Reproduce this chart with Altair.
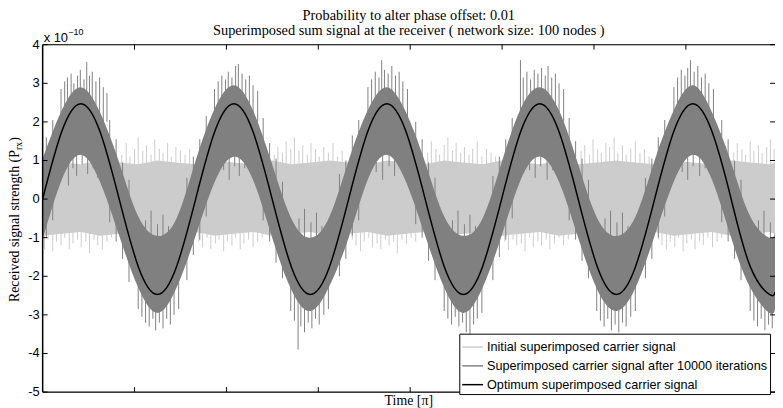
import altair as alt
import pandas as pd

# ---------------- data (values in units of 1e-10, time in tick units) ----------------
SERIES = ["Initial superimposed carrier signal",
          "Superimposed carrier signal after 10000 iterations",
          "Optimum superimposed carrier signal"]
COLORS = ["#cccccc", "#808080", "#000000"]

TITLE_LINES = ["Probability to alter phase offset: 0.01",
               "Superimposed sum signal at the receiver ( network size: 100 nodes )"]
X_TITLE = "Time [\u03c0]"

X_TICKS = [1, 2, 3, 4, 5, 6, 7]
Y_TICKS = [-5, -4, -3, -2, -1, 0, 1, 2, 3, 4]
Y_TICK_LABELS = ["-5", "-4", "-3", "-2", "-1", "0", "1", "2", "3", "4"]

# sample positions along the time axis
T = [0.000, 0.208, 0.416, 0.624, 0.833, 1.041, 1.249, 1.457, 1.665, 1.873,
     2.081, 2.289, 2.498, 2.706, 2.914, 3.122, 3.330, 3.538, 3.746, 3.954,
     4.163, 4.371, 4.579, 4.787, 4.995, 5.203, 5.411, 5.619, 5.828, 6.036,
     6.244, 6.452, 6.660, 6.868, 7.076, 7.284, 7.493, 7.701, 7.909, 7.970]

# optimum superimposed carrier signal
OPT = [0.0, 1.75, 2.47, 1.75, 0.0, -1.75, -2.47, -1.75, 0.0, 1.75,
       2.47, 1.75, 0.0, -1.75, -2.47, -1.75, 0.0, 1.75, 2.47, 1.75,
       0.0, -1.75, -2.47, -1.75, 0.0, 1.75, 2.47, 1.75, 0.0, -1.75,
       -2.47, -1.75, 0.0, 1.75, 2.47, 1.75, 0.0, -1.75, -2.47, -2.41]

# signal after 10000 iterations: dense core envelope
ITER_HI = [1.05, 2.3, 2.9, 2.25, 0.95, -0.45, -0.95, -0.5, 1.0, 2.35,
           2.95, 2.3, 0.9, -0.5, -1.0, -0.45, 1.0, 2.3, 2.9, 2.25,
           0.95, -0.45, -0.95, -0.5, 0.95, 2.35, 2.9, 2.3, 0.9, -0.5,
           -0.95, -0.45, 1.0, 2.3, 2.95, 2.25, 0.95, -0.45, -1.0, -0.85]
ITER_LO = [-1.05, 0.5, 1.15, 0.45, -0.95, -2.3, -2.95, -2.3, -0.95, 0.45,
           1.1, 0.5, -1.0, -2.35, -2.9, -2.25, -1.0, 0.5, 1.15, 0.45,
           -0.95, -2.3, -2.95, -2.3, -0.95, 0.5, 1.1, 0.45, -1.0, -2.35,
           -2.9, -2.3, -0.95, 0.45, 1.15, 0.5, -1.0, -2.3, -2.95, -2.85]

# initial signal: dense core envelope
INIT_HI = [1.0, 0.95, 0.9, 1.0, 0.95, 0.9, 1.0, 0.95, 0.9, 1.0,
           0.95, 0.9, 1.0, 0.9, 0.95, 1.0, 0.95, 0.9, 1.0, 0.95,
           0.9, 1.0, 0.95, 0.9, 1.0, 0.95, 0.9, 1.0, 0.9, 0.95,
           1.0, 0.95, 0.9, 1.0, 0.95, 0.9, 1.0, 0.95, 0.9, 0.95]
INIT_LO = [-0.95, -0.9, -0.85, -0.95, -0.9, -0.85, -0.95, -0.9, -0.85, -0.95,
           -0.9, -0.85, -0.95, -0.9, -0.85, -0.95, -0.9, -0.85, -0.95, -0.9,
           -0.85, -0.95, -0.9, -0.85, -0.95, -0.9, -0.85, -0.95, -0.9, -0.85,
           -0.95, -0.9, -0.85, -0.95, -0.9, -0.85, -0.95, -0.9, -0.85, -0.9]

# initial signal: upward spikes (visible around troughs of the optimum)
INIT_UP_T = [0.86, 0.91, 0.95, 1.00, 1.04, 1.09, 1.13, 1.18, 1.22, 1.27, 1.31, 1.36, 1.40, 1.45, 1.50, 1.55, 1.60,
             2.52, 2.56, 2.61, 2.65, 2.70, 2.74, 2.79, 2.83, 2.88, 2.92, 2.97, 3.01, 3.06, 3.11, 3.16, 3.21, 3.26,
             4.19, 4.23, 4.28, 4.32, 4.37, 4.41, 4.46, 4.50, 4.55, 4.59, 4.64, 4.68, 4.73, 4.78, 4.83, 4.88, 4.93,
             5.86, 5.90, 5.95, 5.99, 6.04, 6.08, 6.13, 6.17, 6.22, 6.26, 6.31, 6.35, 6.40, 6.45, 6.50, 6.55, 6.60,
             7.52, 7.56, 7.61, 7.65, 7.70, 7.74, 7.79, 7.83, 7.88, 7.92, 7.96]
INIT_UP_V = [1.15, 1.45, 1.1, 1.3, 1.6, 1.25, 1.4, 1.15, 1.55, 1.3, 1.2, 1.45, 1.1, 1.35, 1.25, 1.15, 1.3,
             1.15, 1.35, 1.2, 1.5, 1.3, 1.6, 1.25, 1.4, 1.15, 1.45, 1.3, 1.1, 1.35, 1.2, 1.45, 1.1, 1.25,
             1.2, 1.5, 1.3, 1.15, 1.4, 1.6, 1.25, 1.45, 1.2, 1.35, 1.15, 1.3, 1.5, 1.1, 1.3, 1.2, 1.1,
             1.25, 1.4, 1.15, 1.55, 1.3, 1.2, 1.45, 1.35, 1.6, 1.2, 1.4, 1.15, 1.3, 1.5, 1.2, 1.3, 1.1,
             1.2, 1.45, 1.3, 1.15, 1.5, 1.25, 1.4, 1.2, 1.35, 1.55, 1.3]

# initial signal: downward spikes (visible around peaks of the optimum)
INIT_DN_T = [0.02, 0.06, 0.11, 0.15, 0.20, 0.24, 0.29, 0.33, 0.38, 0.42, 0.47, 0.51, 0.56, 0.60, 0.65, 0.70, 0.75,
             1.70, 1.74, 1.79, 1.83, 1.88, 1.92, 1.97, 2.01, 2.06, 2.10, 2.15, 2.19, 2.24, 2.29, 2.34, 2.39,
             3.37, 3.41, 3.46, 3.50, 3.55, 3.59, 3.64, 3.68, 3.73, 3.77, 3.82, 3.86, 3.91, 3.96, 4.01, 4.06,
             5.03, 5.07, 5.12, 5.16, 5.21, 5.25, 5.30, 5.34, 5.39, 5.43, 5.48, 5.52, 5.57, 5.62, 5.67, 5.72,
             6.70, 6.74, 6.79, 6.83, 6.88, 6.92, 6.97, 7.01, 7.06, 7.10, 7.15, 7.19, 7.24, 7.29, 7.34, 7.39]
INIT_DN_V = [-1.3, -1.05, -1.35, -1.1, -1.2, -1.0, -1.3, -1.15, -1.05, -1.25, -1.1, -1.4, -1.05, -1.2, -1.3, -1.1, -1.0,
             -1.1, -1.25, -1.0, -1.3, -1.15, -1.05, -1.35, -1.1, -1.2, -1.0, -1.3, -1.15, -1.05, -1.25, -1.1, -1.0,
             -1.05, -1.2, -1.35, -1.1, -1.0, -1.25, -1.15, -1.3, -1.05, -1.2, -1.1, -1.4, -1.05, -1.15, -1.0, -1.1,
             -1.1, -1.3, -1.05, -1.2, -1.15, -1.35, -1.0, -1.25, -1.1, -1.2, -1.05, -1.3, -1.15, -1.0, -1.2, -1.05,
             -1.05, -1.2, -1.3, -1.1, -1.25, -1.0, -1.35, -1.15, -1.05, -1.3, -1.1, -1.2, -1.0, -1.25, -1.1, -1.0]

# signal after iterations: outer spikes above the peaks
ITER_UP_T = [0.20, 0.24, 0.27, 0.31, 0.34, 0.38, 0.41, 0.45, 0.48, 0.51, 0.54, 0.58, 0.62, 0.66, 0.70,
             1.87, 1.91, 1.95, 1.99, 2.02, 2.06, 2.10, 2.13, 2.17, 2.21, 2.25, 2.29, 2.34,
             3.54, 3.58, 3.62, 3.66, 3.69, 3.72, 3.76, 3.80, 3.84, 3.88, 3.92, 3.97,
             5.20, 5.23, 5.27, 5.31, 5.35, 5.39, 5.43, 5.47, 5.50, 5.54, 5.58, 5.62, 5.67,
             6.87, 6.91, 6.95, 6.99, 7.02, 7.05, 7.09, 7.13, 7.17, 7.21, 7.25, 7.30]
ITER_UP_V = [2.85, 3.05, 3.15, 3.25, 3.0, 3.2, 3.35, 3.1, 3.55, 3.2, 3.3, 3.05, 3.15, 2.9, 2.75,
             2.85, 3.05, 3.2, 3.1, 3.3, 3.15, 3.45, 3.5, 3.25, 3.1, 3.2, 2.95, 2.8,
             2.9, 3.1, 3.3, 3.15, 3.6, 3.35, 3.25, 3.45, 3.2, 3.3, 3.05, 2.85,
             3.6, 3.15, 3.3, 3.1, 3.35, 3.25, 3.4, 3.2, 3.45, 3.15, 3.25, 3.0, 2.85,
             2.9, 3.15, 3.35, 3.2, 3.4, 3.6, 3.3, 3.45, 3.15, 3.25, 3.0, 2.85]

# signal after iterations: outer spikes below the troughs
ITER_DN_T = [1.04, 1.08, 1.12, 1.16, 1.20, 1.23, 1.27, 1.31, 1.35, 1.39, 1.43, 1.48,
             2.70, 2.74, 2.78, 2.81, 2.85, 2.89, 2.93, 2.97, 3.01, 3.06, 3.11,
             4.37, 4.41, 4.45, 4.49, 4.53, 4.57, 4.61, 4.65, 4.69, 4.73, 4.78,
             6.03, 6.07, 6.11, 6.15, 6.19, 6.23, 6.27, 6.31, 6.35, 6.40, 6.45,
             7.70, 7.74, 7.78, 7.82, 7.86, 7.90, 7.94]
ITER_DN_V = [-2.85, -3.05, -3.2, -3.3, -3.1, -3.4, -3.2, -3.35, -3.1, -3.25, -3.0, -2.85,
             -2.9, -3.15, -3.9, -3.3, -3.45, -3.2, -3.35, -3.1, -3.25, -3.0, -2.85,
             -2.9, -3.1, -3.25, -3.05, -3.3, -3.2, -3.45, -3.5, -3.25, -3.1, -2.95,
             -2.9, -3.15, -3.3, -3.1, -3.4, -3.25, -3.45, -3.2, -3.3, -3.05, -2.9,
             -2.9, -3.15, -3.3, -3.1, -3.4, -3.25, -3.35]

# signal after iterations: inner spikes below the peaks
ITER_IN_PK_T = [0.28, 0.33, 0.37, 0.43, 0.49, 0.55, 0.60,
                1.97, 2.03, 2.09, 2.14, 2.20,
                3.63, 3.70, 3.77, 3.83, 3.89,
                5.30, 5.36, 5.42, 5.49, 5.55,
                6.96, 7.02, 7.08, 7.15, 7.21]
ITER_IN_PK_V = [0.35, 0.8, 0.6, 0.9, 0.65, 0.8, 0.55,
                0.75, 0.5, 0.85, 0.6, 0.8,
                0.7, 0.5, 0.85, 0.6, 0.8,
                0.75, 0.55, 0.85, 0.5, 0.75,
                0.7, 0.5, 0.85, 0.6, 0.8]

# signal after iterations: inner spikes above the troughs
ITER_IN_TR_T = [1.12, 1.18, 1.25, 1.31, 1.37,
                2.79, 2.85, 2.92, 2.98, 3.04,
                4.46, 4.52, 4.59, 4.65, 4.71,
                6.12, 6.18, 6.25, 6.31, 6.37,
                7.79, 7.85, 7.92]
ITER_IN_TR_V = [-0.55, -0.3, -0.65, -0.4, -0.7,
                -0.5, -0.25, -0.6, -0.35, -0.7,
                -0.55, -0.3, -0.65, -0.4, -0.7,
                -0.5, -0.3, -0.6, -0.35, -0.7,
                -0.55, -0.3, -0.6]

# signal after iterations: spikes on the slopes (near zero crossings)
SLOPE_T = [0.04, 0.11,
           0.73, 0.80, 0.87, 0.94, 1.57, 1.64, 1.71, 1.78,
           2.40, 2.47, 2.54, 2.61, 3.23, 3.30, 3.37, 3.44,
           4.06, 4.13, 4.20, 4.27, 4.90, 4.97, 5.04, 5.11,
           5.73, 5.80, 5.87, 5.94, 6.56, 6.63, 6.70, 6.77,
           7.39, 7.46, 7.53, 7.60]
SLOPE_MID = [0.30, 0.81,
             0.74, 0.23, -0.30, -0.81, -0.74, -0.23, 0.30, 0.81,
             0.74, 0.23, -0.30, -0.81, -0.74, -0.23, 0.30, 0.81,
             0.74, 0.23, -0.30, -0.81, -0.74, -0.23, 0.30, 0.81,
             0.74, 0.23, -0.30, -0.81, -0.74, -0.23, 0.30, 0.81,
             0.74, 0.23, -0.30, -0.81]
SLOPE_UP = [1.6, 2.05,
            2.05, 1.55, 0.95, 0.5, 0.55, 1.1, 1.55, 2.15,
            2.1, 1.45, 1.05, 0.45, 0.65, 1.0, 1.65, 2.05,
            2.0, 1.55, 0.95, 0.55, 0.6, 1.1, 1.55, 2.1,
            2.1, 1.5, 1.05, 0.5, 0.55, 1.05, 1.6, 2.05,
            2.05, 1.55, 1.0, 0.5]
SLOPE_DN = [-1.0, -0.55,
            -0.6, -1.1, -1.55, -2.15, -2.1, -1.45, -1.05, -0.45,
            -0.55, -1.1, -1.65, -2.05, -2.0, -1.55, -0.95, -0.55,
            -0.65, -1.0, -1.6, -2.1, -2.1, -1.5, -1.05, -0.5,
            -0.55, -1.05, -1.6, -2.05, -2.05, -1.55, -1.0, -0.45,
            -0.6, -1.1, -1.55, -2.1]

YLABEL_PARTS = ["Received signal strength (P", "rx", " )"]
MULT_PARTS = ["x 10", "\u221210"]

# ---------------- chart ----------------
W, H = 740, 351
LIGHT, DARK = COLORS[0], COLORS[1]
xs = alt.Scale(domain=[0, 7.97], nice=False, zero=False)
ys = alt.Scale(domain=[-5, 4], nice=False, zero=False)

band = pd.DataFrame({"u": T, "opt": OPT, "ihi": ITER_HI, "ilo": ITER_LO,
                     "lhi": INIT_HI, "llo": INIT_LO,
                     "series": [SERIES[2]] * len(T)})

x_axis = alt.Axis(values=X_TICKS, labels=False, ticks=False, domain=False,
                  grid=True, gridColor="#8c8c8c", gridDash=[1, 2], gridWidth=0.7,
                  title=None)
y_axis = alt.Axis(values=Y_TICKS, labels=False, ticks=False, domain=False, grid=True,
                  gridColor="#8c8c8c", gridDash=[1, 2], gridWidth=0.7, title=None)


def spikes(t, v, base, color):
    df = pd.DataFrame({"u": t, "tip": v, "base": base})
    return alt.Chart(df).mark_rule(color=color, strokeWidth=1, clip=True).encode(
        x=alt.X("u:Q", scale=xs, axis=None),
        y=alt.Y("tip:Q", scale=ys, axis=None),
        y2="base:Q")


init_up = alt.Chart(pd.DataFrame({"u": INIT_UP_T, "tip": INIT_UP_V})).mark_rule(
    color=LIGHT, strokeWidth=1, clip=True).encode(
    x=alt.X("u:Q", scale=xs, axis=x_axis),
    y=alt.Y("tip:Q", scale=ys, axis=y_axis),
    y2=alt.datum(0))
init_dn = spikes(INIT_DN_T, INIT_DN_V, 0.0, LIGHT)

init_area = alt.Chart(band).mark_area(color=LIGHT, interpolate="linear", clip=True).encode(
    x=alt.X("u:Q", scale=xs, axis=None),
    y=alt.Y("llo:Q", scale=ys, axis=None),
    y2="lhi:Q")

it_up = spikes(ITER_UP_T, ITER_UP_V, 2.0, DARK)
it_dn = spikes(ITER_DN_T, ITER_DN_V, -2.0, DARK)
it_ipk = spikes(ITER_IN_PK_T, ITER_IN_PK_V, 1.6, DARK)
it_itr = spikes(ITER_IN_TR_T, ITER_IN_TR_V, -1.6, DARK)
it_su = spikes(SLOPE_T, SLOPE_UP, SLOPE_MID, DARK)
it_sd = spikes(SLOPE_T, SLOPE_DN, SLOPE_MID, DARK)

iter_area = alt.Chart(band).mark_area(color=DARK, interpolate="natural", clip=True).encode(
    x=alt.X("u:Q", scale=xs, axis=None),
    y=alt.Y("ilo:Q", scale=ys, axis=None),
    y2="ihi:Q")

legend = alt.Legend(title=None, orient="none", legendX=421, legendY=292,
                    symbolType="stroke", symbolSize=441, symbolStrokeWidth=1.5,
                    labelFont="Liberation Sans", labelFontSize=12.8, labelColor="black",
                    labelLimit=600, labelOffset=3, strokeColor="black", fillColor="white",
                    padding=2, rowPadding=-2, cornerRadius=0)

opt_line = alt.Chart(band).mark_line(strokeWidth=1.5, interpolate="natural", clip=True).encode(
    x=alt.X("u:Q", scale=xs, axis=None),
    y=alt.Y("opt:Q", scale=ys, axis=None),
    color=alt.Color("series:N", scale=alt.Scale(domain=SERIES, range=COLORS), legend=legend))

xt = pd.DataFrame({"u": X_TICKS})
yt = pd.DataFrame({"v": Y_TICKS, "lab": Y_TICK_LABELS})
tick_bot = alt.Chart(xt).mark_rule(color="black").encode(
    x=alt.X("u:Q", scale=xs, axis=None), y=alt.value(H), y2=alt.value(H - 5))
tick_top = alt.Chart(xt).mark_rule(color="black").encode(
    x=alt.X("u:Q", scale=xs, axis=None), y=alt.value(0), y2=alt.value(5))
tick_left = alt.Chart(yt).mark_rule(color="black").encode(
    y=alt.Y("v:Q", scale=ys, axis=None), x=alt.value(0), x2=alt.value(5))
tick_right = alt.Chart(yt).mark_rule(color="black").encode(
    y=alt.Y("v:Q", scale=ys, axis=None), x=alt.value(W - 5), x2=alt.value(W))
ytick_labels = alt.Chart(yt).mark_text(
    font="Liberation Sans", fontSize=13, align="right", baseline="middle",
    color="black").encode(
    y=alt.Y("v:Q", scale=ys, axis=None), x=alt.value(-3), text="lab:N")

one = pd.DataFrame({"k": [0]})
frame_top = alt.Chart(one).mark_rule(color="black", strokeWidth=1).encode(
    x=alt.value(0), x2=alt.value(W), y=alt.value(0))
frame_bot = alt.Chart(one).mark_rule(color="black", strokeWidth=1.2).encode(
    x=alt.value(0), x2=alt.value(W), y=alt.value(H))
frame_left = alt.Chart(one).mark_rule(color="black", strokeWidth=1.5).encode(
    x=alt.value(0), y=alt.value(0), y2=alt.value(H))

titles = pd.DataFrame({"t": TITLE_LINES})
title1 = alt.Chart(titles.iloc[[0]]).mark_text(
    font="Liberation Serif", fontSize=14.5, align="center", baseline="middle",
    color="black").encode(text="t:N", x=alt.value(370), y=alt.value(-28.5))
title2 = alt.Chart(titles.iloc[[1]]).mark_text(
    font="Liberation Serif", fontSize=14.5, align="center", baseline="middle",
    color="black").encode(text="t:N", x=alt.value(370), y=alt.value(-13.5))
xtitle = alt.Chart(pd.DataFrame({"t": [X_TITLE]})).mark_text(
    font="Liberation Serif", fontSize=14, align="center", baseline="middle",
    color="black").encode(text="t:N", x=alt.value(370), y=alt.value(H + 9))

lab = pd.DataFrame({"t": YLABEL_PARTS})
ylab_main = alt.Chart(lab.iloc[[0]]).mark_text(
    font="Liberation Serif", fontSize=14, angle=270, align="left", baseline="alphabetic",
    color="black").encode(text="t:N", x=alt.value(-24), y=alt.value(260))
ylab_sub = alt.Chart(lab.iloc[[1]]).mark_text(
    font="Liberation Serif", fontSize=10, angle=270, align="left", baseline="alphabetic",
    color="black").encode(text="t:N", x=alt.value(-21), y=alt.value(106.5))
ylab_end = alt.Chart(lab.iloc[[2]]).mark_text(
    font="Liberation Serif", fontSize=14, angle=270, align="left", baseline="alphabetic",
    color="black").encode(text="t:N", x=alt.value(-24), y=alt.value(98))

mult = pd.DataFrame({"t": MULT_PARTS})
mult_main = alt.Chart(mult.iloc[[0]]).mark_text(
    font="Liberation Sans", fontSize=13, align="left", baseline="alphabetic",
    color="black").encode(text="t:N", x=alt.value(1), y=alt.value(-3))
mult_sup = alt.Chart(mult.iloc[[1]]).mark_text(
    font="Liberation Sans", fontSize=9, align="left", baseline="alphabetic",
    color="black").encode(text="t:N", x=alt.value(26), y=alt.value(-9.5))

chart = alt.layer(
    init_up, init_dn, init_area,
    it_up, it_dn, it_ipk, it_itr, it_su, it_sd, iter_area,
    opt_line,
    tick_bot, tick_top, tick_left, tick_right,
    frame_top, frame_bot, frame_left,
    ytick_labels, title1, title2, xtitle,
    ylab_main, ylab_sub, ylab_end, mult_main, mult_sup,
).properties(
    width=W, height=H,
    padding={"left": 35, "top": 35, "right": 0, "bottom": 14},
    autosize=alt.AutoSizeParams(type="none"),
).configure_view(stroke=None).configure(background="white")

chart.save("out.html", embed_options={"renderer": "svg", "actions": False})
